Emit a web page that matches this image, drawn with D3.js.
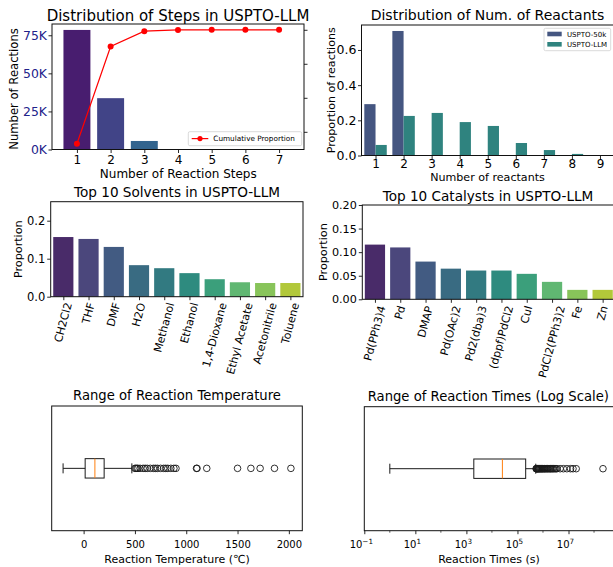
<!DOCTYPE html>
<html><head><meta charset="utf-8">
<script src="https://cdn.jsdelivr.net/npm/d3@7"></script>
<style>body{margin:0;background:#fff} text{font-family:"DejaVu Sans",sans-serif;fill:#000}</style>
</head><body>
<svg id="c" width="613" height="567"></svg>
<script>
// ---------- DATA ----------
const stepCats = [1, 2, 3, 4, 5, 6, 7];
const stepCounts = [78500, 33700, 5600, 120, 30, 10, 5];
const stepCumulative = [0.665, 0.951, 0.996, 0.9995, 0.9998, 0.9999, 1.0];
const stepTicks = [0, 25000, 50000, 75000];
const cumTicks = [0.7, 0.8, 0.9, 1.0];

const reactantCats = [1, 2, 3, 4, 5, 6, 7, 8, 9];
const reactants50k = [0.292, 0.708, 0, 0, 0, 0, 0, 0, 0];
const reactantsLLM = [0.060, 0.225, 0.242, 0.190, 0.168, 0.071, 0.031, 0.009, 0.002];
const reactantTicks = [0, 0.2, 0.4, 0.6];
const reactantSeries = ["USPTO-50k", "USPTO-LLM"];

const solvents = ["CH2Cl2", "THF", "DMF", "H2O", "Methanol", "Ethanol", "1,4-Dioxane", "Ethyl Acetate", "Acetonitrile", "Toluene"];
const solventProps = [0.157, 0.152, 0.131, 0.083, 0.075, 0.062, 0.046, 0.038, 0.036, 0.036];
const solventTicks = [0, 0.1, 0.2];

const catalysts = ["Pd(PPh3)4", "Pd", "DMAP", "Pd(OAc)2", "Pd2(dba)3", "(dppf)PdCl2", "CuI", "PdCl2(PPh3)2", "Fe", "Zn"];
const catalystProps = [0.116, 0.110, 0.080, 0.065, 0.061, 0.061, 0.054, 0.037, 0.020, 0.020];
const catalystTicks = [0, 0.05, 0.10, 0.15, 0.20];

// box stats: [lower whisker, Q1, median, Q3, upper whisker]
const tempBox = [-200, 15, 110, 200, 470];
const tempOutliers = [500, 510, 520, 530, 550, 580, 600, 620, 650, 680, 700, 720, 750, 780, 800, 820, 850, 880, 900, 1100, 1105, 1200, 1500, 1630, 1720, 1860, 2020];
const tempTicks = [0, 500, 1000, 1500, 2000];

const timeBox = [1, 1950, 25700, 210000, 520000];
const timeOutliers = [540000, 550000, 570000, 590000, 610000, 640000, 670000, 700000, 730000, 770000, 810000, 860000, 900000, 960000,
  1000000, 1080000, 1150000, 1200000, 1300000, 1400000, 1500000, 1600000, 1750000, 1900000, 2000000, 2200000, 2400000, 2600000,
  2900000, 3200000, 3500000, 4700000, 6300000, 8600000, 12000000, 15000000, 20000000, 224000000];
const timeTickExps = [-1, 1, 3, 5, 7];
const timeMinorExps = [0, 2, 4, 6, 8];

// ---------- HELPERS ----------
const svg = d3.select("#c");
svg.append("rect").attr("width", 613).attr("height", 567).attr("fill", "#fff");

function desat(c, p) { const h = d3.hsl(c); h.s *= p; return h.formatHex(); }
function vir(t) { return d3.interpolateViridis(t); }

function text(x, y, s, size, opts = {}) {
  const t = svg.append("text").attr("x", x).attr("y", y).attr("font-size", size)
    .attr("text-anchor", opts.anchor || "middle").text(s);
  if (opts.rotate) t.attr("transform", `rotate(${opts.rotate},${x},${y})`);
  if (opts.fill) t.style("fill", opts.fill);
  return t;
}
function frame(x0, x1, y0, y1) {
  svg.append("rect").attr("x", x0).attr("y", y0).attr("width", x1 - x0).attr("height", y1 - y0)
    .attr("fill", "none").attr("stroke", "#111").attr("stroke-width", 1);
}
function styleAxis(g, size, fill) {
  g.select(".domain").remove();
  g.selectAll("line").attr("stroke", "#111").attr("stroke-width", 0.9);
  g.selectAll("text").attr("font-family", "DejaVu Sans").attr("font-size", size).style("fill", fill || "#000");
  g.attr("font-family", null).attr("font-size", null);
}
function bottomAxis(scale, y, ticks, fmt, size, baseOff) {
  const g = svg.append("g").attr("transform", `translate(0,${y})`)
    .call(d3.axisBottom(scale).tickValues(ticks).tickFormat(fmt).tickSize(3.5).tickSizeOuter(0));
  styleAxis(g, size);
  g.selectAll("text").attr("y", baseOff).attr("dy", 0);
  return g;
}
function leftAxis(scale, x, ticks, fmt, size, pad, fill) {
  const g = svg.append("g").attr("transform", `translate(${x},0)`)
    .call(d3.axisLeft(scale).tickValues(ticks).tickFormat(fmt).tickSize(3.5).tickPadding(pad).tickSizeOuter(0));
  styleAxis(g, size, fill);
  return g;
}
function rotatedLabels(scale, y, labels, size) {
  labels.forEach((lab, i) => {
    const g = svg.append("g");
    g.append("text").attr("font-size", size).attr("text-anchor", "end")
      .attr("transform", "rotate(-75)").text(lab);
    const b = g.node().getBBox();
    g.attr("transform", `translate(${scale(i) - (b.x + b.width / 2)},${y - b.y})`);
  });
}

// ---------- PANEL 1: steps ----------
{
  const L = 52, R = 304, T = 24, B = 149.5;
  const x = d3.scaleLinear().domain([0.26, 7.74]).range([L, R]);
  const y = d3.scaleLinear().domain([0, 82400]).range([B, T]);
  const y2 = d3.scaleLinear().domain([0.648, 1.017]).range([B, T]);
  const stepColors = [0.08, 0.2, 0.32, 0.44, 0.56, 0.68, 0.8].map(vir);
  svg.append("g").selectAll("rect").data(stepCats).join("rect")
    .attr("x", (d) => x(d - 0.4)).attr("width", (d) => x(d + 0.4) - x(d - 0.4))
    .attr("y", (d, i) => y(stepCounts[i])).attr("height", (d, i) => B - y(stepCounts[i]))
    .attr("fill", (d, i) => stepColors[i]);
  bottomAxis(x, B, stepCats, d3.format("d"), 12, 14);
  leftAxis(y, L, stepTicks, (d) => (d / 1000) + "K", 12.4, 1.5, "#22228a");
  const gr = svg.append("g").attr("transform", `translate(${R},0)`)
    .call(d3.axisRight(y2).tickValues(cumTicks).tickFormat("").tickSize(3.5).tickSizeOuter(0));
  styleAxis(gr, 10);
  const line = d3.line().x((d, i) => x(stepCats[i])).y((d) => y2(d));
  svg.append("path").attr("d", line(stepCumulative)).attr("fill", "none").attr("stroke", "#ff0000").attr("stroke-width", 1.2);
  svg.append("g").selectAll("circle").data(stepCumulative).join("circle")
    .attr("cx", (d, i) => x(stepCats[i])).attr("cy", (d) => y2(d)).attr("r", 3).attr("fill", "#ff0000");
  frame(L, R, T, B);
  // legend
  svg.append("rect").attr("x", 188.3).attr("y", 131.7).attr("width", 113.4).attr("height", 14).attr("rx", 1.5)
    .attr("fill", "#fff").attr("fill-opacity", 0.8).attr("stroke", "#d0d0d0").attr("stroke-width", 0.8);
  svg.append("line").attr("x1", 191.7).attr("x2", 208.3).attr("y1", 138.6).attr("y2", 138.6).attr("stroke", "#ff0000").attr("stroke-width", 1.2);
  svg.append("circle").attr("cx", 200).attr("cy", 138.6).attr("r", 2.6).attr("fill", "#ff0000");
  text(213.3, 141.3, "Cumulative Proportion", 7.3, { anchor: "start" });
  text(178, 21, "Distribution of Steps in USPTO-LLM", 15);
  text(178.3, 178, "Number of Reaction Steps", 12);
  text(17.5, 89, "Number of Reactions", 11.6, { rotate: -90 });
}

// ---------- PANEL 2: reactants ----------
{
  const L = 361.5, R = 614, T = 25, B = 155.5;
  const x = d3.scaleLinear().domain([-0.5, 8.5]).range([L, R]);
  const y = d3.scaleLinear().domain([0, 0.742]).range([B, T]);
  const cols = [desat(vir(0.25), 0.75), desat(vir(0.5), 0.75)];
  const series = [reactants50k, reactantsLLM];
  series.forEach((vals, s) => {
    svg.append("g").selectAll("rect").data(vals).join("rect")
      .attr("x", (d, i) => x(i - 0.4 + s * 0.4)).attr("width", x(0.4) - x(0))
      .attr("y", (d) => y(d)).attr("height", (d) => B - y(d)).attr("fill", cols[s]);
  });
  bottomAxis(d3.scaleLinear().domain([0.5, 9.5]).range([L, R]), B, reactantCats, d3.format("d"), 12, 12.5);
  leftAxis(y, L, reactantTicks, d3.format(".1f"), 12.5, 1.5);
  frame(L, R, T, B);
  // legend
  svg.append("rect").attr("x", 544).attr("y", 28.3).attr("width", 66.7).attr("height", 22.4).attr("rx", 1.5)
    .attr("fill", "#fff").attr("fill-opacity", 0.8).attr("stroke", "#d0d0d0").attr("stroke-width", 0.8);
  reactantSeries.forEach((s, i) => {
    svg.append("rect").attr("x", 547.3).attr("y", 31.7 + i * 10.3).attr("width", 14.4).attr("height", 4.6).attr("fill", cols[i]);
    text(567, 36.6 + i * 10.3, s, 7, { anchor: "start" });
  });
  text(487.5, 20, "Distribution of Num. of Reactants", 14);
  text(487.5, 181, "Number of reactants", 11.1);
  text(335, 90.25, "Proportion of reactions", 11.1, { rotate: -90 });
}

// ---------- PANEL 3: solvents ----------
{
  const L = 50.7, R = 303, T = 201.7, B = 296.7;
  const x = d3.scaleLinear().domain([-0.5, 9.5]).range([L, R]);
  const y = d3.scaleLinear().domain([0, 0.25]).range([B, T]);
  const cols = solvents.map((d, i) => desat(vir((i + 1) / 11), 0.75));
  svg.append("g").selectAll("rect").data(solventProps).join("rect")
    .attr("x", (d, i) => x(i - 0.4)).attr("width", x(0.8) - x(0))
    .attr("y", (d) => y(d)).attr("height", (d) => B - y(d)).attr("fill", (d, i) => cols[i]);
  bottomAxis(x, B, d3.range(solvents.length), "", 11, 14);
  leftAxis(y, L, solventTicks, d3.format(".1f"), 11.5, 2);
  rotatedLabels(x, B + 4.5, solvents, 11);
  frame(L, R, T, B);
  text(177, 196.7, "Top 10 Solvents in USPTO-LLM", 13.6);
  text(22.5, 249.2, "Proportion", 11.2, { rotate: -90 });
}

// ---------- PANEL 4: catalysts ----------
{
  const L = 362.3, R = 615.3, T = 205, B = 299.3;
  const x = d3.scaleLinear().domain([-0.5, 9.5]).range([L, R]);
  const y = d3.scaleLinear().domain([0, 0.2]).range([B, T]);
  const cols = catalysts.map((d, i) => desat(vir((i + 1) / 11), 0.75));
  svg.append("g").selectAll("rect").data(catalystProps).join("rect")
    .attr("x", (d, i) => x(i - 0.4)).attr("width", x(0.8) - x(0))
    .attr("y", (d) => y(d)).attr("height", (d) => B - y(d)).attr("fill", (d, i) => cols[i]);
  bottomAxis(x, B, d3.range(catalysts.length), "", 11, 14);
  leftAxis(y, L, catalystTicks, d3.format(".2f"), 11.2, 2);
  rotatedLabels(x, B + 5, catalysts, 11);
  frame(L, R, T, B);
  text(488, 200.7, "Top 10 Catalysts in USPTO-LLM", 13.6);
  text(327, 252.1, "Proportion", 11.2, { rotate: -90 });
}

// ---------- box plot helper ----------
function boxplot(x, stats, outliers, cy) {
  const g = svg.append("g").attr("stroke", "#1a1a1a").attr("stroke-width", 1).attr("fill", "none");
  const hb = 9.7, hc = 5;
  g.append("line").attr("x1", x(stats[0])).attr("x2", x(stats[1])).attr("y1", cy).attr("y2", cy);
  g.append("line").attr("x1", x(stats[3])).attr("x2", x(stats[4])).attr("y1", cy).attr("y2", cy);
  g.append("line").attr("x1", x(stats[0])).attr("x2", x(stats[0])).attr("y1", cy - hc).attr("y2", cy + hc);
  g.append("line").attr("x1", x(stats[4])).attr("x2", x(stats[4])).attr("y1", cy - hc).attr("y2", cy + hc);
  g.append("rect").attr("x", x(stats[1])).attr("width", x(stats[3]) - x(stats[1])).attr("y", cy - hb).attr("height", 2 * hb);
  g.append("line").attr("x1", x(stats[2])).attr("x2", x(stats[2])).attr("y1", cy - hb).attr("y2", cy + hb).attr("stroke", "#ff7f0e");
  g.selectAll("circle").data(outliers).join("circle").attr("cx", (d) => x(d)).attr("cy", cy).attr("r", 3.3).attr("stroke-width", 0.9);
}

// ---------- PANEL 5: temperature ----------
{
  const L = 51.7, R = 302.3, T = 406, B = 530.7;
  const x = d3.scaleLinear().domain([-311, 2131]).range([L, R]);
  boxplot(x, tempBox, tempOutliers, (T + B) / 2);
  bottomAxis(x, B, tempTicks, d3.format("d"), 10, 17.3);
  frame(L, R, T, B);
  text(177, 400, "Range of Reaction Temperature", 13.2);
  text(177, 562.7, "Reaction Temperature (\u2103)", 11);
}

// ---------- PANEL 6: times ----------
{
  const L = 364.3, R = 616.5, T = 406.7, B = 530.7;
  const x = d3.scaleLog().domain([0.1, Math.pow(10, 8.88)]).range([L, R]);
  boxplot(x, timeBox, timeOutliers, (T + B) / 2);
  const ticks = timeTickExps.map((e) => Math.pow(10, e));
  bottomAxis(x, B, ticks, "", 10, 17.3);
  const minor = svg.append("g");
  timeMinorExps.forEach((e) => {
    const xx = x(Math.pow(10, e));
    if (xx < R) minor.append("line").attr("x1", xx).attr("x2", xx).attr("y1", B).attr("y2", B + 2).attr("stroke", "#111").attr("stroke-width", 0.7);
  });
  timeTickExps.forEach((e) => {
    const t = svg.append("text").attr("x", x(Math.pow(10, e)) - 3).attr("y", 548.3).attr("font-size", 10).attr("text-anchor", "middle");
    t.append("tspan").text("10");
    t.append("tspan").attr("dy", -4.5).attr("font-size", 7.2).text(e < 0 ? "\u2212" + Math.abs(e) : String(e));
  });
  frame(L, R, T, B);
  text(488.3, 400.7, "Range of Reaction Times (Log Scale)", 13.2);
  text(489, 563, "Reaction Times (s)", 11);
}
</script>
</body></html>
